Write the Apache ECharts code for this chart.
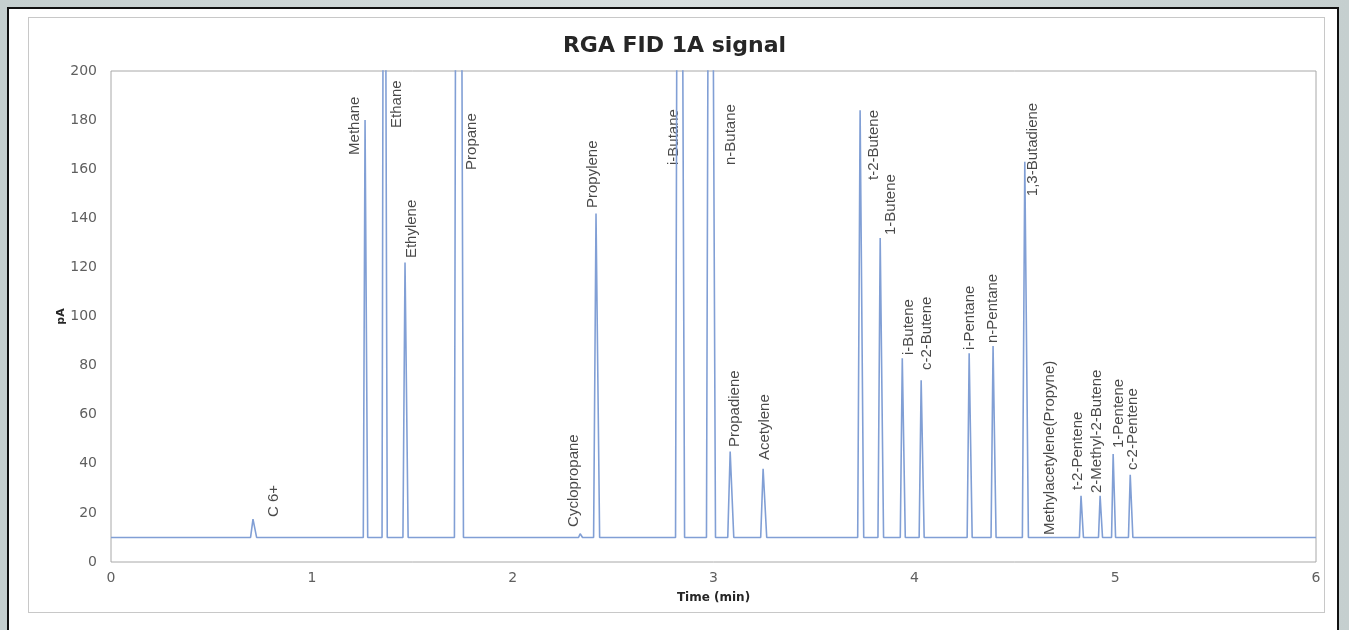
<!DOCTYPE html>
<html>
<head>
<meta charset="utf-8">
<script src="https://cdn.jsdelivr.net/npm/echarts@6/dist/echarts.min.js"></script>
<style>
  html, body { margin: 0; padding: 0; width: 1349px; height: 630px; overflow: hidden;
    background: linear-gradient(90deg, #c5cfcf 0%, #d8dfdf 50%, #c5cfcf 100%); }
  #frame { position: absolute; left: 7px; top: 7px; width: 1332px; height: 640px;
    border: 2px solid #111; background: #fff; box-sizing: border-box; }
  #panel { position: absolute; left: 28px; top: 17px; width: 1297px; height: 596px;
    border: 1px solid #c8c8c8; box-sizing: border-box; background: #fff; }
  #chart { position: absolute; left: 0; top: 0; width: 1349px; height: 630px; }
</style>
</head>
<body>
<div id="frame"></div>
<div id="panel"></div>
<div id="chart"></div>
<script>
// ---- data ----
const baselineSignal = 10;               // pA
const timeRange = [0, 6];                 // min
const peakNames = ['C 6+', 'Methane', 'Ethane', 'Ethylene', 'Propane', 'Cyclopropane', 'Propylene',
  'i-Butane', 'n-Butane', 'Propadiene', 'Acetylene', 't-2-Butene', '1-Butene', 'i-Butene', 'c-2-Butene',
  'i-Pentane', 'n-Pentane', '1,3-Butadiene', 'Methylacetylene(Propyne)', 't-2-Pentene',
  '2-Methyl-2-Butene', '1-Pentene', 'c-2-Pentene'];
const peakTimes = [0.707, 1.265, 1.360, 1.464, 1.728, 2.336, 2.415,
  2.829, 2.983, 3.083, 3.247, 3.730, 3.830, 3.940, 4.034,
  4.273, 4.392, 4.550, 4.680, 4.830,
  4.925, 4.990, 5.075];
const peakHeights = [17.5, 180, 450, 122, 700, 11.5, 142,
  600, 500, 45, 38, 184, 132, 83, 74,
  85, 88, 163, 10.8, 27,
  27, 44, 35.5];
const peakWidths = [0.03, 0.022, 0.026, 0.026, 0.045, 0.02, 0.03,
  0.045, 0.045, 0.03, 0.03, 0.03, 0.028, 0.025, 0.025,
  0.025, 0.025, 0.03, 0.02, 0.02,
  0.02, 0.02, 0.022];
const yTicks = [0, 20, 40, 60, 80, 100, 120, 140, 160, 180, 200];
const xTicks = [0, 1, 2, 3, 4, 5, 6];

// ---- label layout (anchor = bottom end of each vertical label, in axis units) ----
const labelAnchors = [[0.812, 18.3], [1.215, 165.8], [1.424, 176.8], [1.499, 123.8], [1.798, 159.7],
  [2.306, 14.3], [2.400, 144.2], [2.804, 161.7], [3.088, 161.7], [3.108, 46.8], [3.257, 41.5],
  [3.800, 155.6], [3.884, 133.2], [3.974, 84.3], [4.064, 78.2], [4.278, 86.4], [4.392, 89.2],
  [4.592, 149.0], [4.676, 11.0], [4.816, 29.3], [4.910, 28.1], [5.020, 46.4], [5.090, 37.5]];

// build the trace: baseline with a triangular peak at each retention time
const trace = [[timeRange[0], baselineSignal]];
peakTimes.forEach((t, i) => {
  const w = peakWidths[i];
  trace.push([t - 0.4 * w, baselineSignal]);
  trace.push([t, peakHeights[i]]);
  trace.push([t + 0.6 * w, baselineSignal]);
});
trace.push([timeRange[1], baselineSignal]);

const labelData = peakNames.map((n, i) => ({ name: n, value: labelAnchors[i] }));

const wideFont = 'DejaVu Sans, Verdana, sans-serif';
const chart = echarts.init(document.getElementById('chart'), null, { renderer: 'canvas' });
chart.setOption({
  backgroundColor: 'transparent',
  animation: false,
  title: {
    text: 'RGA FID 1A signal', left: 'center', top: 30,
    textStyle: { fontFamily: wideFont, fontSize: 22, fontWeight: 'bold', color: '#262626' }
  },
  grid: { left: 111, right: 33, top: 71, bottom: 68, show: true, borderColor: '#a8a8a8', borderWidth: 1, backgroundColor: '#fff' },
  xAxis: {
    type: 'value', min: 0, max: 6, interval: 1,
    name: 'Time (min)', nameLocation: 'middle', nameGap: 30, nameMoveOverlap: false,
    nameTextStyle: { fontFamily: wideFont, fontSize: 12, fontWeight: 'bold', color: '#262626' },
    axisLine: { show: false }, axisTick: { show: false }, splitLine: { show: false },
    axisLabel: { margin: 9, fontFamily: wideFont, fontSize: 14, color: '#5f5f5f',
      customValues: xTicks, showMinLabel: true, showMaxLabel: true }
  },
  yAxis: {
    type: 'value', min: 0, max: 200, interval: 20,
    name: 'pA', nameLocation: 'middle', nameGap: 44, nameMoveOverlap: false,
    nameTextStyle: { fontFamily: wideFont, fontSize: 11, fontWeight: 'bold', color: '#262626' },
    axisLine: { show: false }, axisTick: { show: false }, splitLine: { show: false },
    axisLabel: { margin: 14, fontFamily: wideFont, fontSize: 14, color: '#5f5f5f',
      customValues: yTicks }
  },
  series: [
    {
      type: 'line', data: trace, showSymbol: false, symbol: 'none', smooth: false, clip: true,
      lineStyle: { color: '#819fd5', width: 1.6 }, silent: true
    },
    {
      type: 'scatter', data: labelData, symbolSize: 1, itemStyle: { color: 'rgba(0,0,0,0)' }, silent: true,
      label: {
        show: true, formatter: '{b}', position: 'inside', rotate: 90, align: 'left', verticalAlign: 'middle',
        fontFamily: 'Liberation Sans Narrow, Liberation Sans, Arial, sans-serif', fontSize: 15, color: '#1a1a1a'
      }
    }
  ]
});
</script>
</body>
</html>
